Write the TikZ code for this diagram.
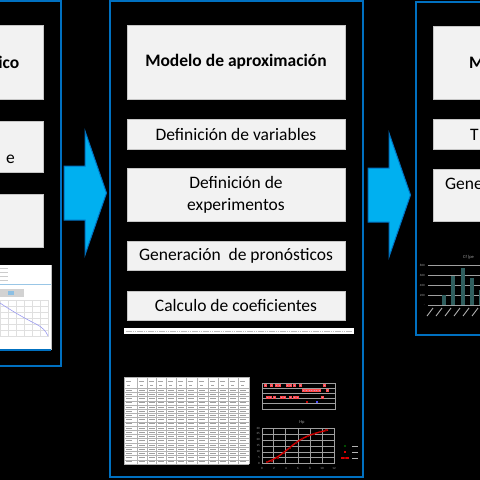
\documentclass[tikz,border=0pt]{standalone}
\usepackage{fontspec}
\setmainfont{Carlito}
\definecolor{panelblue}{HTML}{0070C0}
\definecolor{arrowblue}{HTML}{00B0F0}
\definecolor{boxgray}{HTML}{F2F2F2}
\definecolor{barteal}{HTML}{2F5E5E}
\definecolor{curvelav}{HTML}{9A9AF0}
\tikzset{
  panel/.style={draw=panelblue, line width=1.6pt},
  stagebox/.style={fill=boxgray, draw=gray!45, line width=0.4pt, minimum width=218pt,
    inner sep=0pt, align=center, font=\fontsize{17.5}{22}\selectfont},
  fragment/.style={inner sep=0pt, font=\fontsize{17.5}{22}\selectfont},
  tick/.style={inner sep=0pt, text=gray!80, font=\fontsize{3.2}{4}\selectfont},
  cellgrid/.style={gray!60, line width=0.3pt},
  chartgrid/.style={gray!75, line width=0.5pt}
}
\begin{document}
\begin{tikzpicture}[x=1pt, y=-1pt]
  \useasboundingbox[fill=black] (0,0) rectangle (480,480);
  \clip (0,0) rectangle (480,480);

  % panels
  \draw[panel] (-200,1) rectangle (61,366);
  \draw[panel] (110,1) rectangle (363,477);
  \draw[panel] (416,2) rectangle (700,335);

  % block arrows between panels
  \foreach \ax/\ay in {64/166, 368/168}
    \filldraw[fill=arrowblue, draw=panelblue, line width=1pt, shift={(\ax,\ay)}]
      (0,0) -- (21,0) -- (21,-35) -- (42.5,27) -- (21,89) -- (21,54) -- (0,54) -- cycle;

  % left column (cut off)
  \node[stagebox, minimum height=74pt] (leftA) at (-66,62) {};
  \node[stagebox, minimum height=51pt] (leftB) at (-66,146.5) {};
  \node[stagebox, minimum height=53pt] (leftC) at (-66,220.5) {};
  \node[fragment, anchor=base east, font=\fontsize{17.5}{22}\selectfont\bfseries] (leftAtxt) at (19.5,68) {ico};
  \node[fragment, anchor=base east] (leftBtxt) at (15,163) {e};

  % left screenshot
  \fill[white] (-10,265) rectangle (51,350);
  \draw[gray!50, line width=0.4pt] (51,265) -- (51,350);
  \fill[panelblue] (-10,348.5) rectangle (51,351);
  \foreach \ly in {268,272,276,280} \draw[gray!40, line width=0.6pt] (0,\ly) -- (8,\ly);
  \draw[panelblue!40, line width=0.6pt] (0,284.5) -- (51,284.5);
  \fill[gray!35] (0,289) rectangle (24,297);
  \fill[panelblue!45] (8,291) rectangle (14,295);
  \foreach \gx in {0,8,...,48} \draw[gray!25, line width=0.3pt] (\gx,300) -- (\gx,337);
  \foreach \gy in {300,306,...,336} \draw[gray!25, line width=0.3pt] (0,\gy) -- (48,\gy);
  \draw[curvelav, line width=0.6pt] (0,303) .. controls (12,311) and (24,318) .. (36,324) .. controls (42,327) and (46,331) .. (48,336);

  % middle column
  \node[stagebox, minimum height=74pt, font=\fontsize{17.5}{22}\selectfont\bfseries] (model) at (236,62) {Modelo de aproximación};
  \node[stagebox, minimum height=30pt] (vars) at (236,134) {Definición de variables};
  \node[stagebox, minimum height=53pt] (exper) at (236,194.5) {Definición de\\experimentos};
  \node[stagebox, minimum height=29pt] (forecast) at (236,255.5) {Generación~ de pronósticos};
  \node[stagebox, minimum height=29pt] (coef) at (236,305.5) {Calculo de coeficientes};
  \fill[white] (124,328) rectangle (354,334);
  \draw[gray!55, line width=1pt, dash pattern=on 1.5pt off 0.7pt] (126,331) -- (352,331);

  % table of results
  \fill[white] (124,377) rectangle (249,464);
  \foreach \cx in {124,137,147,156,166,176,186,197,208,218,228,238,249}
    \draw[cellgrid] (\cx,377) -- (\cx,464);
  \draw[cellgrid] (124,377) -- (249,377);
  \foreach \r in {0,...,18}
    \draw[cellgrid] (124,{388+\r*4.22}) -- (249,{388+\r*4.22});
  \foreach \cx in {124,137,147,156,166,176,186,197,208,218,228,238} {
    \draw[gray!70, line width=0.6pt] (\cx+2,381) -- (\cx+7,381);
    \draw[gray!70, line width=0.6pt] (\cx+3,385) -- (\cx+6,385);
    \foreach \r in {0,...,17}
      \draw[gray!75, line width=0.9pt] (\cx+2,{390.1+\r*4.22}) -- (\cx+8,{390.1+\r*4.22});
  }

  % strip chart
  \draw[chartgrid] (262,383) rectangle (335,409);
  \foreach \ly in {388,393,398,403} \draw[chartgrid] (262,\ly) -- (335,\ly);
  \foreach \px/\py in {265/385, 271/385, 276/385, 279/385, 287/385, 290/385, 294/385, 300/385, 324/385,
      303/390, 306/390, 309/390, 311/390, 314/390, 316/390, 319/390, 327/390,
      267/397, 270/397, 274/397, 281/397, 284/397, 290/397, 294/397, 297/397, 322/397}
    \filldraw[fill=violet!45, draw=red!70, line width=0.3pt] (\px-1.1,\py-1.1) rectangle (\px+1.1,\py+1.1);
  \fill[red!80!black] (306.2,400.8) rectangle (308,403.2);
  \fill[blue!70] (316.4,401.2) rectangle (318,402.8);

  % line chart
  \node[inner sep=0pt, text=gray!80, font=\fontsize{4.5}{5}\selectfont] (hptitle) at (302,422) {Hp};
  \draw[chartgrid] (262,428) rectangle (334,463);
  \foreach \gx in {273,285,298,310,322} \draw[chartgrid] (\gx,428) -- (\gx,463);
  \foreach \gy in {434,440,446,452,457} \draw[chartgrid] (262,\gy) -- (334,\gy);
  \foreach \v [count=\i from 0] in {30,25,20,15,10,5,0}
    \node[tick, anchor=east] at (260,{428+\i*5.83}) {\v};
  \foreach \v [count=\i from 0] in {0,2,4,6,8,10,12}
    \node[tick] at ({262+\i*12},468) {\v};
  \draw[red!85!black, line width=1.4pt] (267,462) .. controls (280,458) and (290,446) .. (300,440)
    .. controls (310,434) and (320,432) .. (328,430);
  \foreach \mx/\my in {267/462, 272/461, 278/458, 284/453, 290/448, 296/443, 302/439, 308/436, 314/434, 320/432, 326/430}
    \fill[red!60!black] (\mx-0.8,\my-0.8) rectangle (\mx+0.8,\my+0.8);
  % legend
  \fill[green!60!black] (345,446) circle (0.8);
  \fill[red!85!black] (344,451) rectangle (346,453);
  \draw[red!85!black, line width=1.2pt] (341,458) -- (349,458);
  \fill[red!60!black] (344.2,457.2) rectangle (345.8,458.8);
  \foreach \ly in {446,452,458} \draw[gray!60, line width=0.9pt] (352,\ly) -- (358,\ly);

  % right column (cut off)
  \node[stagebox, minimum height=73pt] (rightA) at (542,62.5) {};
  \node[stagebox, minimum height=30pt] (rightB) at (542,134) {};
  \node[stagebox, minimum height=52pt] (rightC) at (542,195) {};
  \node[fragment, anchor=base west, font=\fontsize{17.5}{22}\selectfont\bfseries] (rightAtxt) at (469,68) {M};
  \node[fragment, anchor=base west] (rightBtxt) at (470,140) {T};
  \node[fragment, anchor=base west] (rightCtxt) at (445,189) {Gene};

  % bar chart
  \node[inner sep=0pt, anchor=west, text=gray!75, font=\fontsize{4.5}{5}\selectfont] (cftitle) at (463,257) {Cf (pe};
  \foreach \v [count=\i from 0] in {800,600,400,200,-} {
    \draw[chartgrid] (428,{265+\i*10}) -- (482,{265+\i*10});
    \node[tick, anchor=east] at (425,{265+\i*10}) {\v};
  }
  \foreach \bx/\bv in {444/200, 453/580, 463/740, 472/540, 481/300}
    \fill[barteal] (\bx-1.6,305) rectangle (\bx+1.6,{305-\bv/20});
  \foreach \lx in {430,439,448,457,466,475}
    \draw[gray!60, line width=0.9pt] (\lx+3,308) -- (\lx-3,316);
\end{tikzpicture}
\end{document}
